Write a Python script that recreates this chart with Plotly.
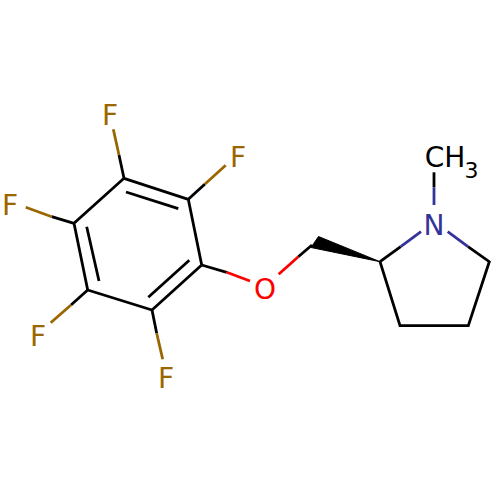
import plotly.graph_objects as go

# Bond segments in picture pixels, split by colour (None breaks the line)
black_x = [201.7, 188.3, 124, 74, 87.7, 152, 201.7, None, 178.3, 126, None, 86.7, 99, None, 148.3, 189.3, None,
           188.3, 205, None, 124, 119, None, 74, 51.7, None, 87.7, 71, None, 152, 156.7, None,
           201.7, 226.7, None, 298.3, 312, None, 380, 400.7, None, 468, 489.3, 468.3, 400, 380, None, 434, 434]
black_y = [265, 199.3, 178.3, 223.3, 290, 310, 265, None, 208.7, 192, None, 226.7, 281, None, 297.3, 260.3, None,
           199.3, 184, None, 178.3, 155, None, 223.3, 216.7, None, 290, 305, None, 310, 333.3, None,
           265, 272.3, None, 256.7, 245, None, 261.7, 246.7, None, 246.7, 261.7, 325.7, 325.7, 261.7, None, 187.3, 172.3]
fluor_x = [205, 225.7, None, 119, 113.3, None, 51.7, 25.7, None, 71, 50.7, None, 156.7, 162.7]
fluor_y = [184, 165.3, None, 155, 129.3, None, 216.7, 207.3, None, 305, 322.7, None, 333.3, 359.3]
oxy_x = [226.7, 250, None, 278.7, 298.3]
oxy_y = [272.3, 281, None, 274.3, 256.7]
nitro_x = [400.7, 421, None, 447.7, 468, None, 434, 434]
nitro_y = [246.7, 231.7, None, 231.7, 246.7, None, 205, 187.3]

# Stereo wedge
wedge_x = [380, 318.5, 311, 380]
wedge_y = [261.7, 236.5, 247.5, 261.7]

# Atom labels
f_x = [110, 238, 10, 38, 166]
f_y = [118, 160, 208, 339, 381]
atom_labels = ["O", "N", "CH", "3"]
atom_x = [265, 434, 445, 471.5]
atom_y = [292, 228, 160, 172]
atom_colors = ["#ff0000", "#33339a", "#000000", "#000000"]
atom_sizes = [28, 28, 28, 22]

font = "DejaVu Sans"
fig = go.Figure()

for xs, ys, col in [(black_x, black_y, "#000000"), (fluor_x, fluor_y, "#996600"),
                    (oxy_x, oxy_y, "#ff0000"), (nitro_x, nitro_y, "#33339a")]:
    fig.add_trace(go.Scatter(x=xs, y=ys, mode="lines", line=dict(color=col, width=2.8), hoverinfo="skip"))

fig.add_trace(go.Scatter(x=wedge_x, y=wedge_y, mode="lines", fill="toself", fillcolor="#000000",
                         line=dict(color="#000000", width=1), hoverinfo="skip"))

fig.add_trace(go.Scatter(x=f_x, y=f_y, mode="text", text=["F"] * len(f_x), textposition="middle center",
                         textfont=dict(family=font, size=28, color="#996600"), hoverinfo="skip"))
fig.add_trace(go.Scatter(x=atom_x, y=atom_y, mode="text", text=atom_labels, textposition="middle center",
                         textfont=dict(family=font, size=atom_sizes, color=atom_colors), hoverinfo="skip"))

fig.update_layout(
    width=500, height=500,
    margin=dict(l=0, r=0, t=0, b=0),
    paper_bgcolor="white", plot_bgcolor="white",
    showlegend=False,
    xaxis=dict(range=[0, 500], visible=False, fixedrange=True),
    yaxis=dict(range=[500, 0], visible=False, fixedrange=True),
)

# drop the browser's default page margin so the figure sits at 0,0
fig.write_html("out.html", config=dict(displayModeBar=False), post_script="document.body.style.margin='0';")
